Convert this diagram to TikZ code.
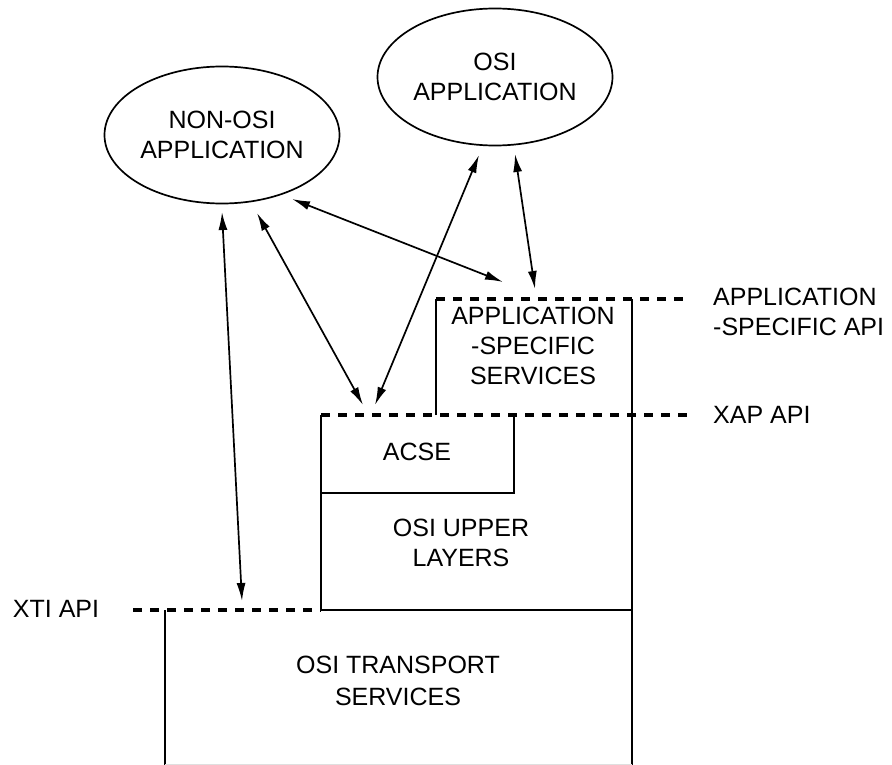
\documentclass[tikz,border=0pt]{standalone}
\usepackage{fontspec}
\setmainfont{Liberation Sans}
\usetikzlibrary{shapes.geometric,arrows.meta}
\begin{document}
\begin{tikzpicture}[x=1pt,y=-1pt,
  lbl/.style={font=\fontsize{25}{30}\selectfont, align=center, inner sep=0pt},
  app/.style={ellipse, draw, line width=1.7pt, minimum width=235pt, minimum height=137pt, inner sep=0pt, lbl},
  wall/.style={line width=1.8pt},
  api/.style={line width=3.5pt, dash pattern=on 9pt off 8pt},
  link/.style={line width=1.7pt, {Latex[length=18pt,width=9pt]}-{Latex[length=18pt,width=9pt]}}
]
\useasboundingbox (0,0) rectangle (892,765);

% layer boxes
\draw[wall] (165,765) -- (165,610);
\draw[wall] (632,299) -- (632,765);
\draw[wall] (321,415) -- (321,610) -- (632,610);
\draw[wall] (321,493) -- (514,493) -- (514,415);
\draw[wall] (436,415) -- (436,299);
\draw[gray!25, line width=1pt] (165,764) -- (632,764);

% API boundaries
\draw[api] (133,610) -- (321,610);
\draw[api] (321,415) -- (687,415);
\draw[api] (436,299) -- (687,299);

% labels
\node[lbl] (xti) at (56,609) {XTI API};
\node[lbl, anchor=west] (xap) at (713,415) {XAP API};
\node[lbl, anchor=west, align=left] (asapi) at (713,312) {APPLICATION\\-SPECIFIC API};
\node[lbl] (acse) at (417,452) {ACSE};
\node[lbl] (upper) at (461,543) {OSI UPPER\\LAYERS};
\node[lbl] (asserv) at (533,346) {APPLICATION\\-SPECIFIC\\SERVICES};
\node[lbl, font=\fontsize{25}{32}\selectfont] (trans) at (398,681) {OSI TRANSPORT\\SERVICES};

% applications
\node[app] (nonosi) at (222,135) {NON-OSI\\APPLICATION};
\node[app] (osi) at (495,77) {OSI\\APPLICATION};

% connector end points
\coordinate (a1) at (222,212); \coordinate (a1b) at (242,601);
\coordinate (a2) at (257,213); \coordinate (a2b) at (363,405);
\coordinate (a3) at (292,199); \coordinate (a3b) at (503,282);
\coordinate (a4) at (479,155); \coordinate (a4b) at (375,405);
\coordinate (a5) at (515,154); \coordinate (a5b) at (535,289);

\draw[link] (a1) -- (a1b);
\draw[link] (a2) -- (a2b);
\draw[link] (a3) -- (a3b);
\draw[link] (a4) -- (a4b);
\draw[link] (a5) -- (a5b);
\end{tikzpicture}
\end{document}
